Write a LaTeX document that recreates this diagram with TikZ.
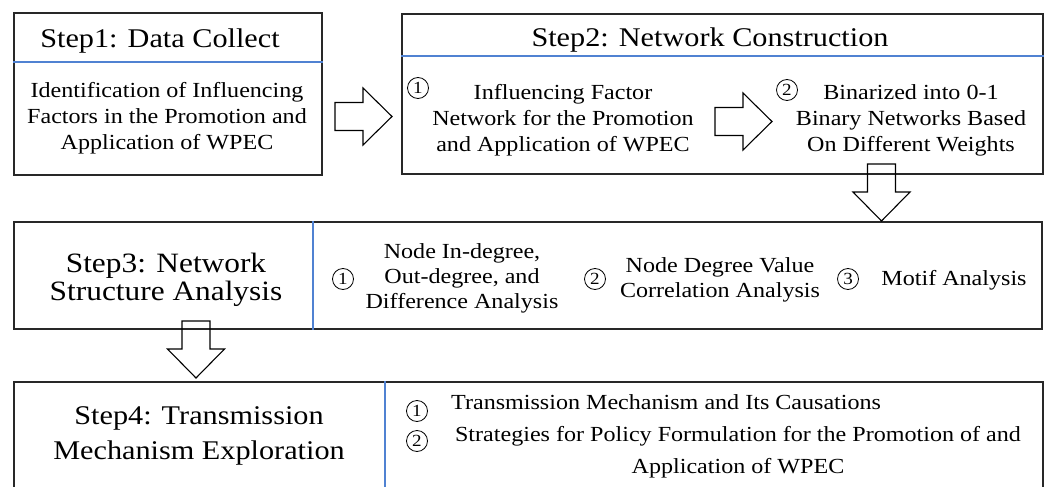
\documentclass[tikz,border=0pt]{standalone}
\usepackage{fontspec}
\setmainfont{Liberation Serif}[FakeStretch=1.12]
\definecolor{rule}{RGB}{80,130,210}
\definecolor{edge}{RGB}{40,40,40}

\tikzset{
  stepbox/.style={draw=edge, line width=1.4pt, inner sep=0},
  divider/.style={draw=rule, line width=1.3pt},
  thindivider/.style={draw=rule, line width=1.1pt},
  ttl/.style={font=\fontsize{27}{28}\selectfont, align=center, inner sep=0},
  body/.style={font=\fontsize{21.5}{26}\selectfont, align=center, inner sep=0},
  % circled item numbers
  num/.style={circle, draw=black, line width=0.8pt, minimum size=21pt,
    inner sep=0, font=\fontsize{17}{17}\selectfont},
  arrowline/.style={draw=black, line width=1.1pt, line join=miter},
  blockarrow/.pic={
    \draw[arrowline] (0,-14) -- (28,-14) -- (28,-28.5) -- (57,0)
      -- (28,28.5) -- (28,14) -- (0,14) -- cycle;
  }
}

\begin{document}
\begin{tikzpicture}[x=1pt, y=-1pt]
\useasboundingbox (0,0) rectangle (1047,487);

% ---- Step 1 ----
\node[stepbox, minimum width=308pt, minimum height=162pt] (s1) at (168,94) {};
\draw[divider] (s1.west |- 0,62) coordinate (d1a) -- (s1.east |- 0,62) coordinate (d1b);
\node[ttl, anchor=base] (t1) at (160,48) {Step1: Data Collect};
\node[body] (b1) at (167,118.5) {Identification of Influencing\\Factors in the Promotion and\\Application of WPEC};

% ---- Step 2 ----
\node[stepbox, minimum width=641pt, minimum height=160pt] (s2) at (722.5,94) {};
\draw[divider] (s2.west |- 0,56) coordinate (d2a) -- (s2.east |- 0,56) coordinate (d2b);
\node[ttl, anchor=base] (t2) at (710,47) {Step2: Network Construction};
\node[num] (n21) at (418,88) {1};
\node[body] (b21) at (563,120) {Influencing Factor\\Network for the Promotion\\and Application of WPEC};
\node[num] (n22) at (787,90) {2};
\node[body] (b22) at (911,120) {Binarized into 0-1\\Binary Networks Based\\On Different Weights};

% ---- Step 3 ----
\node[stepbox, minimum width=1028pt, minimum height=107pt] (s3) at (528,275.5) {};
\draw[thindivider] (313,0 |- s3.north) coordinate (d3a) -- (313,0 |- s3.south) coordinate (d3b);
\node[ttl, font=\fontsize{28}{28}\selectfont] (t3) at (166,279.7) {Step3: Network\\Structure Analysis};
\node[num] (n31) at (343,279) {1};
\node[body, font=\fontsize{21.5}{25}\selectfont] (b31) at (462,278) {Node In-degree,\\Out-degree, and\\Difference Analysis};
\node[num] (n32) at (595,279) {2};
\node[body, font=\fontsize{21.5}{25}\selectfont] (b32) at (720,279.5) {Node Degree Value\\Correlation Analysis};
\node[num] (n33) at (848,279) {3};
\node[body] (b33) at (954,280) {Motif Analysis};

% ---- Step 4 (box runs past the lower edge) ----
\node[stepbox, minimum width=1029pt, minimum height=118pt] (s4) at (528.5,441) {};
\draw[thindivider] (385,0 |- s4.north) coordinate (d4a) -- (385,0 |- s4.south) coordinate (d4b);
\node[ttl, font=\fontsize{27}{35}\selectfont] (t4) at (199,436.3) {Step4: Transmission\\Mechanism Exploration};
\node[num] (n41) at (417,411) {1};
\node[body, anchor=base west] (b41) at (451,409) {Transmission Mechanism and Its Causations};
\node[num] (n42) at (417,441) {2};
\node[body, font=\fontsize{21.5}{32}\selectfont] (b42) at (738,452) {Strategies for Policy Formulation for the Promotion of and\\Application of WPEC};

% ---- block arrows between the steps ----
\coordinate (a1) at (335,116.5);
\coordinate (a2) at (715,121.5);
\coordinate (a3) at (881.5,164);
\coordinate (a4) at (196,321);
\pic at (a1) {blockarrow};
\pic at (a2) {blockarrow};
\pic[rotate=-90] at (a3) {blockarrow};
\pic[rotate=-90] at (a4) {blockarrow};
\end{tikzpicture}
\end{document}
